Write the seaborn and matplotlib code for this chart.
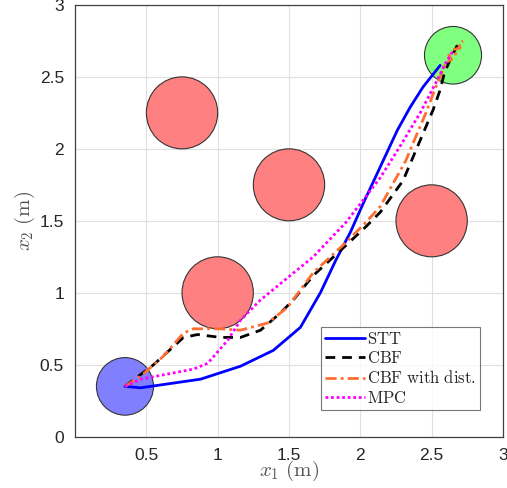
import matplotlib

matplotlib.use("Agg")
import matplotlib.pyplot as plt
import pandas as pd
import seaborn as sns
from matplotlib.patches import Circle

# trajectories
stt_x = [0.35, 0.46, 0.60, 0.88, 1.16, 1.39, 1.58, 1.72, 1.83, 1.93, 2.02, 2.10, 2.18, 2.26, 2.35, 2.44, 2.56]
stt_y = [0.35, 0.34, 0.36, 0.40, 0.49, 0.60, 0.76, 1.00, 1.23, 1.42, 1.62, 1.79, 1.96, 2.13, 2.29, 2.43, 2.58]

cbf_x = [0.35, 0.55, 0.76, 0.86, 1.02, 1.16, 1.30, 1.44, 1.53, 1.67, 1.90, 2.04, 2.14, 2.30, 2.42, 2.51, 2.56, 2.59, 2.64, 2.68]
cbf_y = [0.35, 0.50, 0.69, 0.71, 0.69, 0.69, 0.74, 0.86, 0.95, 1.12, 1.33, 1.46, 1.56, 1.78, 2.06, 2.27, 2.41, 2.53, 2.64, 2.72]

dist_x = [0.35, 0.46, 0.62, 0.76, 0.83, 1.02, 1.16, 1.35, 1.44, 1.49, 1.67, 1.90, 2.04, 2.14, 2.23, 2.32, 2.37, 2.46, 2.53,
          2.60, 2.64, 2.62, 2.67, 2.65, 2.70, 2.69, 2.72]
dist_y = [0.35, 0.42, 0.56, 0.72, 0.75, 0.75, 0.74, 0.79, 0.86, 0.90, 1.14, 1.35, 1.49, 1.60, 1.76, 1.92, 2.04, 2.25, 2.43,
          2.60, 2.62, 2.65, 2.66, 2.69, 2.70, 2.73, 2.75]

mpc_x = [0.35, 0.46, 0.83, 0.93, 1.07, 1.16, 1.30, 1.46, 1.67, 1.90, 2.04, 2.14, 2.28, 2.42, 2.53, 2.60, 2.65]
mpc_y = [0.35, 0.40, 0.47, 0.51, 0.67, 0.81, 0.95, 1.08, 1.25, 1.49, 1.67, 1.80, 2.02, 2.25, 2.46, 2.60, 2.68]

# obstacles, start and goal regions
obs_x = [0.75, 1.5, 2.5, 1.0]
obs_y = [2.25, 1.75, 1.5, 1.0]
obs_r = [0.25, 0.25, 0.25, 0.25]
start = (0.35, 0.35, 0.2)
goal = (2.65, 2.65, 0.2)

ticks_x = [0.5, 1, 1.5, 2, 2.5, 3]
ticks_y = [0, 0.5, 1, 1.5, 2, 2.5, 3]

sns.set_style("white")
plt.rcParams["font.family"] = ["Liberation Sans", "DejaVu Sans"]
plt.rcParams["mathtext.fontset"] = "cm"

fig = plt.figure(figsize=(5.07, 4.88), dpi=100)
ax = fig.add_axes([0.148, 0.105, 0.844, 0.885])

for cx, cy, r in zip(obs_x, obs_y, obs_r):
    ax.add_patch(Circle((cx, cy), r, facecolor="#ff8080", edgecolor="#333333", lw=0.8, zorder=1))
ax.add_patch(Circle(start[:2], start[2], facecolor="#8080ff", edgecolor="#333333", lw=0.8, zorder=1))
ax.add_patch(Circle(goal[:2], goal[2], facecolor="#80ff80", edgecolor="#333333", lw=0.8, zorder=1))

series = [
    (stt_x, stt_y, r"$\mathrm{STT}$", "#0000ff", "-"),
    (cbf_x, cbf_y, r"$\mathrm{CBF}$", "black", (0, (3.5, 2.5))),
    (dist_x, dist_y, r"$\mathrm{CBF\ with\ dist.}$", "#ff6e30", (0, (4, 1.5, 1, 1.5))),
    (mpc_x, mpc_y, r"$\mathrm{MPC}$", "#ff00ff", (0, (1, 1))),
]
for xs, ys, name, col, ls in series:
    df = pd.DataFrame({"x": xs, "y": ys})
    sns.lineplot(data=df, x="x", y="y", sort=False, estimator=None, ax=ax,
                 color=col, linestyle=ls, linewidth=2, label=name, zorder=3)

ax.set_xlim(0, 3)
ax.set_ylim(0, 3)
ax.set_xticks(ticks_x)
ax.set_yticks(ticks_y)
ax.set_xticklabels([f"{t:g}" for t in ticks_x])
ax.set_yticklabels([f"{t:g}" for t in ticks_y])
ax.tick_params(labelsize=12.5, colors="#262626", direction="in", length=0, pad=8)
ax.grid(True, color="#e0e0e0", lw=0.8)
for s in ax.spines.values():
    s.set_color("#404040")
    s.set_linewidth(0.9)

ax.set_xlabel(r"$x_1\ (\mathrm{m})$", fontsize=15, color="#555555", labelpad=-3)
ax.set_ylabel(r"$x_2\ (\mathrm{m})$", fontsize=15, color="#555555", labelpad=2)

leg = ax.legend(loc="lower right", bbox_to_anchor=(0.946, 0.062), fontsize=12, frameon=True,
                fancybox=False, edgecolor="#555555", handlelength=2.4, handletextpad=0.1,
                borderpad=0.25, labelspacing=0.2, borderaxespad=0)
leg.get_frame().set_linewidth(0.8)

fig.savefig("out.png", dpi=100)
